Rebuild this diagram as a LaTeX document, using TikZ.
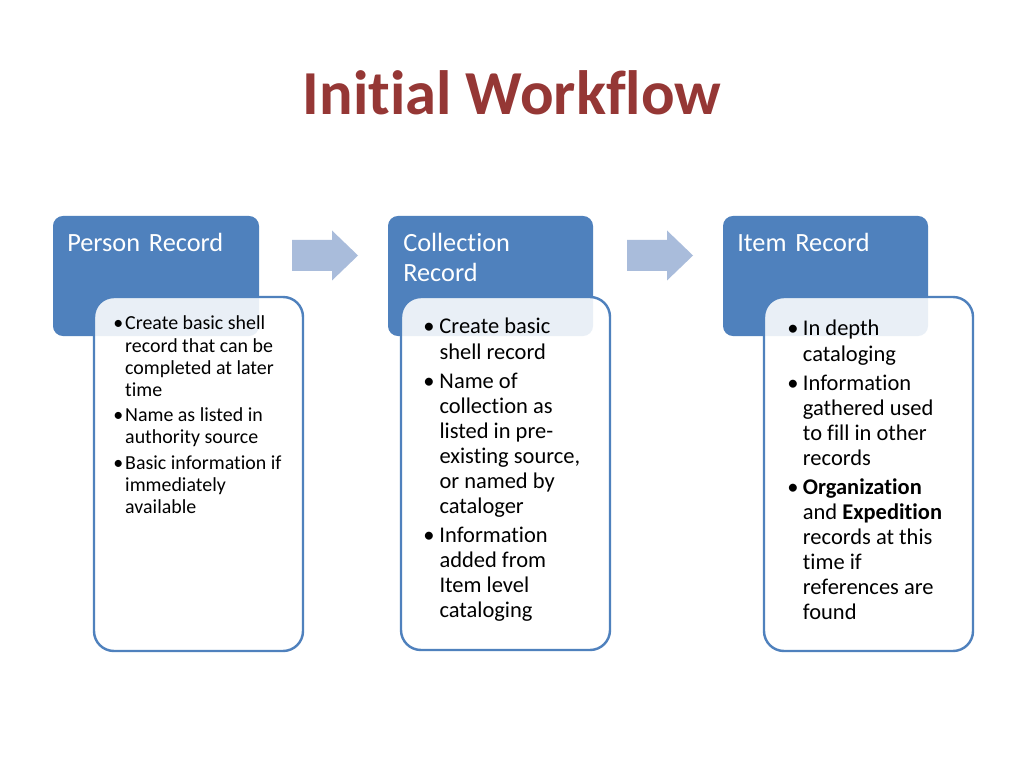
\documentclass[tikz,border=0pt]{standalone}
\usepackage{fontspec}
\setmainfont{Carlito}[Ligatures=NoCommon]
\definecolor{titlered}{HTML}{953735}
\definecolor{hdrblue}{HTML}{4F81BD}
\definecolor{arrowblue}{HTML}{A9BCDB}
\newlength{\bulind}
\newcommand{\bul}[1]{\par\hangindent=\bulind\hangafter=1\noindent\makebox[\bulind][l]{\textbullet}#1}
\newcommand{\nl}{\newline}
\tikzset{
  hdr/.style={fill=hdrblue, rounded corners=7pt},
  bodybox/.style={draw=hdrblue, line width=1.7pt, fill=white, fill opacity=0.88, rounded corners=14pt},
  flow/.style={fill=arrowblue},
  hdrtext/.style={anchor=base west, inner sep=0pt, text=white, text width=140pt,
    font=\fontsize{18.5}{21}\selectfont},
  smalltext/.style={anchor=base west, inner sep=0pt,
    font=\fontsize{14}{15.6}\selectfont},
  bigtext/.style={anchor=base west, inner sep=0pt,
    font=\fontsize{15.8}{17.6}\selectfont},
}
\begin{document}
\begin{tikzpicture}[x=0.703125pt, y=-0.703125pt]
\useasboundingbox (0,0) rectangle (1024,768);
\fill[white] (0,0) rectangle (1024,768);

\node[font=\bfseries\fontsize{44}{50}\selectfont, text=titlered, anchor=base, inner sep=0pt] (title) at (512,115) {Initial Workflow};

% headers
\fill[hdr] (53,216) rectangle (259,336);
\fill[hdr] (388,216) rectangle (593,336);
\fill[hdr] (723,216) rectangle (928,336);
\node[hdrtext] (h1) at (67,252) {Person Record};
\node[hdrtext] (h2) at (403,252) {Collection\\Record};
\node[hdrtext] (h3) at (737,252) {Item Record};

% bodies
\filldraw[bodybox] (94,297) rectangle (303,651);
\filldraw[bodybox] (401,297) rectangle (610,650);
\filldraw[bodybox] (764,297) rectangle (973,651);

% arrows
\fill[flow] (292,240) -- (332,240) -- (332,230.5) -- (358,255.5) -- (332,280.5) -- (332,271) -- (292,271) -- cycle;
\fill[flow] (627,240) -- (667,240) -- (667,230.5) -- (693,255.5) -- (667,280.5) -- (667,271) -- (627,271) -- cycle;

\node[smalltext] (b1) at (113,330) {\begin{minipage}[t]{160pt}\raggedright
\setlength{\parskip}{2.1pt}\setlength{\bulind}{8.4pt}%
\bul{Create basic shell\nl record that can be\nl completed at later\nl time}
\bul{Name as listed in\nl authority source}
\bul{Basic information if\nl immediately\nl available}
\end{minipage}};

\node[bigtext] (b2) at (423,334) {\begin{minipage}[t]{160pt}\raggedright
\setlength{\parskip}{2.8pt}\setlength{\bulind}{11.4pt}%
\bul{Create basic\nl shell record}
\bul{Name of\nl collection as\nl listed in pre-\nl existing source,\nl or named by\nl cataloger}
\bul{Information\nl added from\nl Item level\nl cataloging}
\end{minipage}};

\node[bigtext] (b3) at (787,336) {\begin{minipage}[t]{160pt}\raggedright
\setlength{\parskip}{2.8pt}\setlength{\bulind}{11pt}%
\bul{In depth\nl cataloging}
\bul{Information\nl gathered used\nl to fill in other\nl records}
\bul{\textbf{Organization}\nl and \textbf{Expedition}\nl records at this\nl time if\nl references are\nl found}
\end{minipage}};
\end{tikzpicture}
\end{document}
